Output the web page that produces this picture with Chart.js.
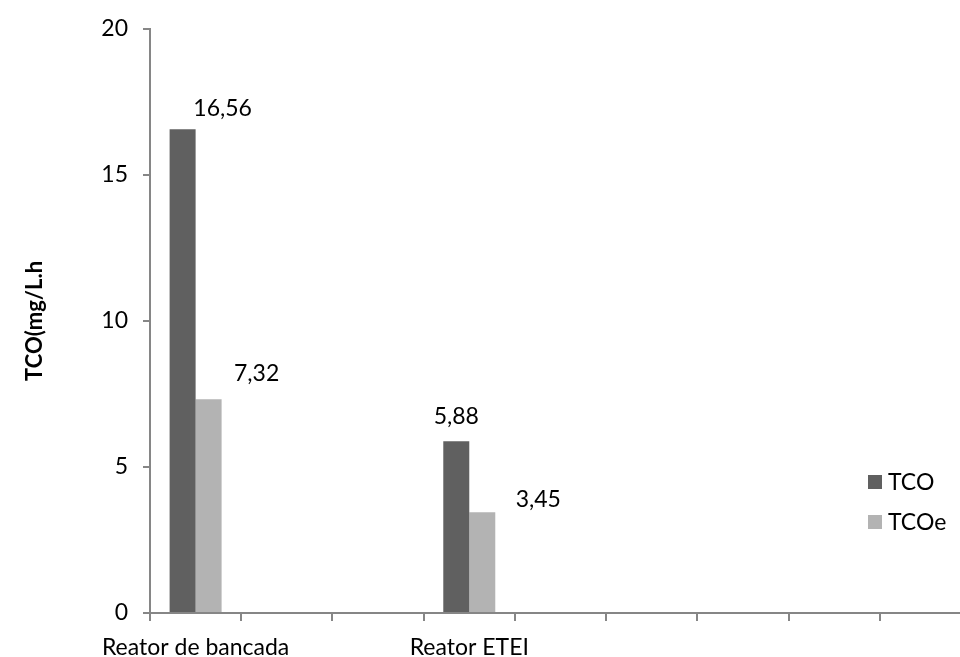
<!DOCTYPE html>
<html>
<head>
<meta charset="utf-8">
<script src="https://cdn.jsdelivr.net/npm/chart.js@4.4.0/dist/chart.umd.min.js"></script>
<style>
  html, body { margin: 0; padding: 0; background: #fff; overflow: hidden; }
  #wrap { position: relative; width: 980px; height: 657px; }
</style>
</head>
<body>
<div id="wrap"><canvas id="myChart"></canvas></div>
<script>
// categories (only two carry a name, the rest are empty slots on the axis)
var categories = ["Reator de bancada", "", "", "Reator ETEI", "", "", "", "", ""];
var tco  = [16.56, null, null, 5.88, null, null, null, null, null];
var tcoe = [7.32,  null, null, 3.45, null, null, null, null, null];
var yTicks = [0, 5, 10, 15, 20];

var axisGrey = "#868686";
var fontName = "Lato, 'Liberation Sans', sans-serif";

// value labels, shifted like in the original picture
var valueLabels = {
    id: 'valueLabels',
    afterDatasetsDraw: function (chart, args, opts) {
        var ctx = chart.ctx;
        ctx.save();
        ctx.font = opts.size + "px " + fontName;
        ctx.fillStyle = "#000";
        ctx.textAlign = "center";
        ctx.textBaseline = "middle";
        chart.data.datasets.forEach(function (ds, i) {
            var meta = chart.getDatasetMeta(i);
            meta.data.forEach(function (bar, j) {
                var v = ds.data[j];
                if (v == null) return;
                var off = opts.offsets[i][j] || [0, -20];
                ctx.fillText(v.toFixed(2).replace('.', ','), bar.x + off[0], bar.y + off[1]);
            });
        });
        ctx.restore();
    }
};

// legend drawn inside the plot, bottom right
var sideLegend = {
    id: 'sideLegend',
    afterDraw: function (chart, args, opts) {
        var ctx = chart.ctx;
        ctx.save();
        ctx.font = opts.size + "px " + fontName;
        ctx.textBaseline = "middle";
        ctx.textAlign = "left";
        chart.data.datasets.forEach(function (ds, i) {
            var y = opts.y + i * opts.gap;
            ctx.fillStyle = ds.backgroundColor;
            ctx.fillRect(opts.x, y - 7, 14, 14);
            ctx.fillStyle = "#000";
            ctx.fillText(ds.label, opts.x + 20, y + 1);
        });
        ctx.restore();
    }
};

var ctxP = document.getElementById("myChart").getContext('2d');
var myChart = new Chart(ctxP, {
    type: 'bar',
    data: {
        labels: categories,
        datasets: [
            { label: "TCO",  data: tco,  backgroundColor: "#606060", categoryPercentage: 0.57, barPercentage: 1.0 },
            { label: "TCOe", data: tcoe, backgroundColor: "#B3B3B3", categoryPercentage: 0.57, barPercentage: 1.0 }
        ]
    },
    options: {
        responsive: true,
        maintainAspectRatio: false,
        animation: false,
        layout: { padding: { top: 27, right: 9, left: 22, bottom: 0 } },
        plugins: {
            legend: { display: false },
            tooltip: { enabled: false },
            valueLabels: {
                size: 23,
                offsets: [
                    [[40, -21], null, null, [0, -25]],
                    [[48, -26], null, null, [56, -13]]
                ]
            },
            sideLegend: { x: 868, y: 482, gap: 40, size: 23 }
        },
        scales: {
            x: {
                offset: true,
                grid: { display: true, drawOnChartArea: false, drawTicks: true, tickLength: 8, color: axisGrey, lineWidth: 2, offset: true },
                border: { display: true, color: axisGrey, width: 2 },
                ticks: { autoSkip: false, maxRotation: 0, color: "#000", font: { family: fontName, size: 23 }, padding: 13 },
                afterFit: function (scale) { scale.height = 44; }
            },
            y: {
                min: 0,
                max: 20,
                afterBuildTicks: function (scale) {
                    scale.ticks = yTicks.map(function (v) { return { value: v }; });
                },
                grid: { display: true, drawOnChartArea: false, drawTicks: true, tickLength: 7, color: axisGrey, lineWidth: 2 },
                border: { display: true, color: axisGrey, width: 2 },
                ticks: { color: "#000", font: { family: fontName, size: 23 }, padding: 15 },
                title: { display: true, text: "TCO(mg/L.h", color: "#000", font: { family: fontName, size: 22, weight: 'bold' }, padding: { top: 0, bottom: 0 } },
                afterFit: function (scale) { scale.width = 128; }
            }
        }
    },
    plugins: [valueLabels, sideLegend]
});
</script>
</body>
</html>
